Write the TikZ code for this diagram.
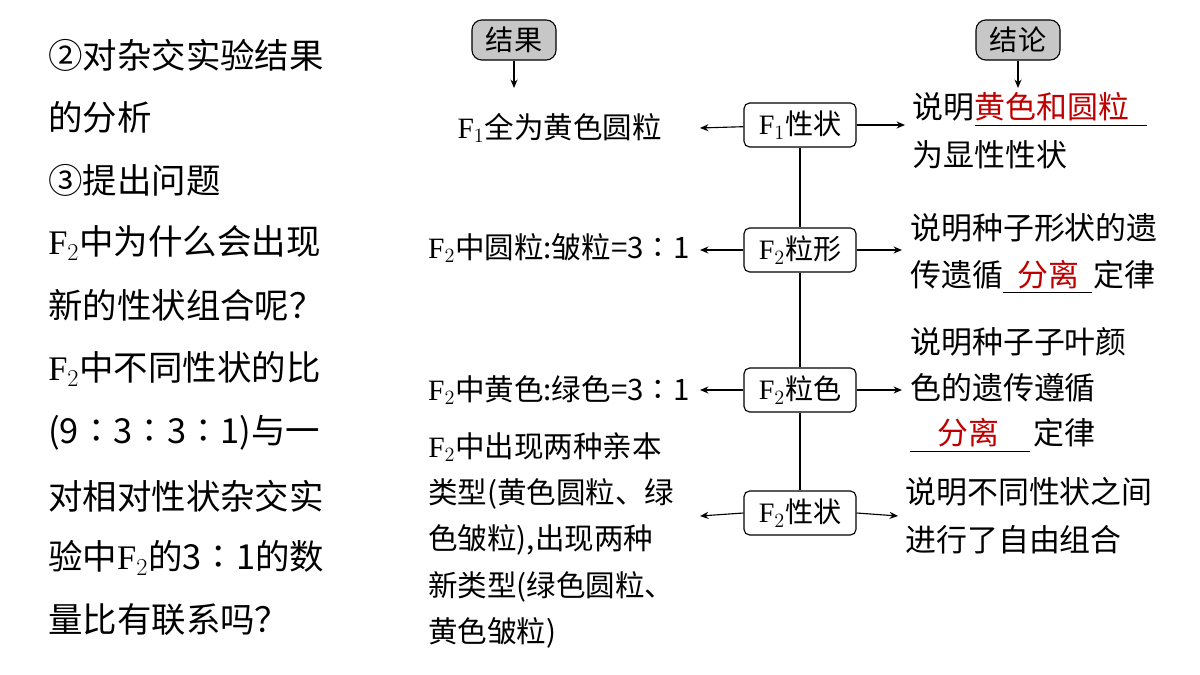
\documentclass[tikz,border=0pt]{standalone}
\usepackage{fontspec}
\setmainfont{Noto Sans CJK SC}
\newfontfamily\latinf{Liberation Serif}
\usetikzlibrary{positioning,arrows.meta}
\tikzset{
  lcol/.style={anchor=west,inner sep=0pt,font=\fontsize{24.5}{28}\selectfont},
  mtxt/.style={inner sep=0pt,font=\fontsize{21}{25}\selectfont},
  rtxt/.style={anchor=west,inner sep=0pt,font=\fontsize{22}{26}\selectfont},
  redt/.style={inner sep=0pt,text=red!75!black,font=\fontsize{22}{26}\selectfont},
  trait/.style={draw,rounded corners=4pt,minimum width=2.8cm,minimum height=1.1cm,
      inner sep=0pt,font=\fontsize{20}{24}\selectfont,line width=0.8pt},
  tag/.style={draw,fill=black!22,rounded corners=7pt,minimum width=2.1cm,minimum height=1cm,
      inner sep=0pt,font=\fontsize{20}{24}\selectfont,line width=0.8pt},
  arr/.style={-{Stealth[length=6pt,width=5pt]},line width=0.8pt}
}
\newcommand{\Fs}[1]{{\latinf F}$_{#1}$}
\begin{document}
\begin{tikzpicture}[x=0.025cm,y=-0.025cm]
\useasboundingbox (0,0) rectangle (1200,675);
% left column
\node[lcol] (l1) at (48,55) {②对杂交实验结果};
\node[lcol] (l2) at (48,117) {的分析};
\node[lcol] (l3) at (48,180) {③提出问题};
\node[lcol] (l4) at (48,243) {\Fs{2}中为什么会出现};
\node[lcol] (l5) at (48,305) {新的性状组合呢？};
\node[lcol] (l6) at (48,369) {\Fs{2}中不同性状的比};
\node[lcol] (l7) at (48,433) {(9∶3∶3∶1)与一};
\node[lcol] (l8) at (48,496) {对相对性状杂交实};
\node[lcol] (l9) at (48,558) {验中\Fs{2}的3∶1的数};
\node[lcol] (l10) at (48,620) {量比有联系吗？};
% tags
\node[tag] (res) at (514,40) {结果};
\node[tag] (con) at (1018,40) {结论};
\coordinate (resd) at (514,88);
\coordinate (cond) at (1018,88);
\draw[arr] (res) -- (resd);
\draw[arr] (con) -- (cond);
% trait boxes
\node[trait] (b1) at (800,125) {\Fs{1}性状};
\node[trait] (b2) at (800,250) {\Fs{2}粒形};
\node[trait] (b3) at (800,390) {\Fs{2}粒色};
\node[trait] (b4) at (800,513) {\Fs{2}性状};
\draw[line width=0.8pt] (b1) -- (b2) (b2) -- (b3) (b3) -- (b4);
% results
\node[mtxt,anchor=east] (r1) at (662,128) {\Fs{1}全为黄色圆粒};
\node[mtxt,anchor=east] (r2) at (690,248) {\Fs{2}中圆粒:皱粒=3∶1};
\node[mtxt,anchor=east] (r3) at (690,390) {\Fs{2}中黄色:绿色=3∶1};
\node[mtxt,anchor=north west,align=left,font=\fontsize{21}{33}\selectfont] (r4) at (428,432)
  {\Fs{2}中出现两种亲本\\类型(黄色圆粒、绿\\色皱粒),出现两种\\新类型(绿色圆粒、\\黄色皱粒)};
\coordinate (r1e) at (700,128);
\coordinate (r2e) at (700,250);
\coordinate (r3e) at (700,390);
\coordinate (r4e) at (700,516);
\draw[arr] (b1) -- (r1e);
\draw[arr] (b2) -- (r2e);
\draw[arr] (b3) -- (r3e);
\draw[arr] (b4.west) -- (r4e);
% conclusions
\node[rtxt] (c1a) at (912,107) {说明};
\node[redt,right=0pt of c1a] (c1r) {黄色和圆粒};
\node[rtxt] (c1b) at (912,155) {为显性性状};
\node[rtxt] (c2a) at (910,228) {说明种子形状的遗};
\node[rtxt] (c2b) at (910,275) {传遗循};
\node[redt,right=10pt of c2b] (c2r) {分离};
\node[rtxt] (c2c) at (1093,275) {定律};
\node[rtxt] (c3a) at (910,342) {说明种子子叶颜};
\node[rtxt] (c3b) at (910,388) {色的遗传遵循};
\node[redt] (c3r) at (968,433) {分离};
\node[rtxt] (c3c) at (1033,433) {定律};
\node[rtxt] (c4a) at (905,492) {说明不同性状之间};
\node[rtxt] (c4b) at (905,540) {进行了自由组合};
\draw[line width=0.7pt] (975,125) -- (1147,125);
\draw[line width=0.7pt] (1003,292) -- (1092,292);
\draw[line width=0.7pt] (910,451) -- (1030,451);
\coordinate (c1w) at (905,125);
\coordinate (c2w) at (902,250);
\coordinate (c3w) at (902,390);
\coordinate (c4w) at (898,516);
\draw[arr] (b1) -- (c1w);
\draw[arr] (b2) -- (c2w);
\draw[arr] (b3) -- (c3w);
\draw[arr] (b4.east) -- (c4w);
\end{tikzpicture}
\end{document}
